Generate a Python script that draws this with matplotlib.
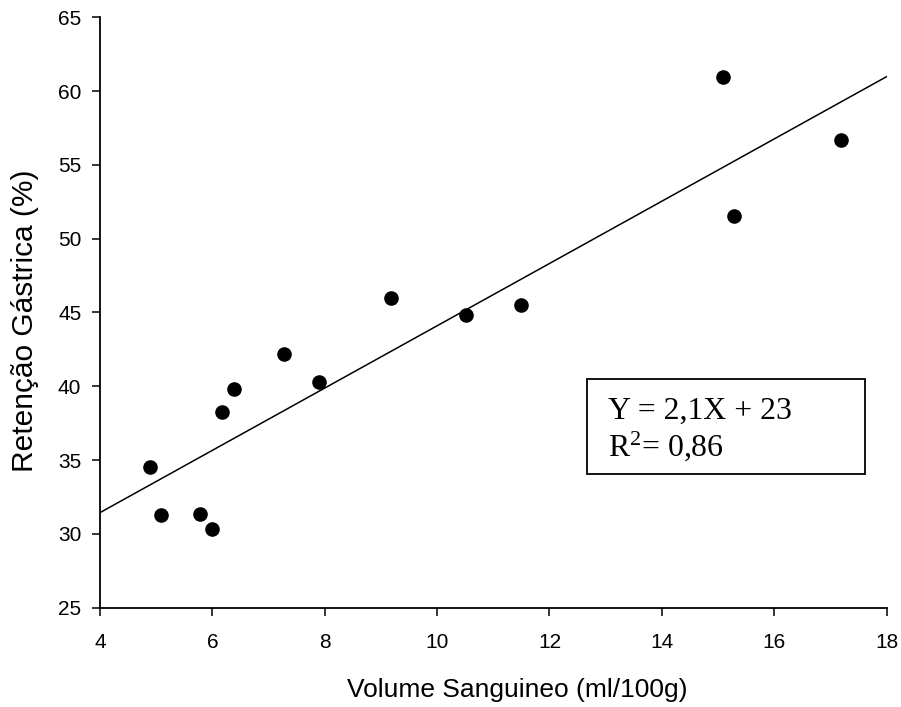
import numpy as np
import matplotlib
matplotlib.use("Agg")
import matplotlib.pyplot as plt
from matplotlib.patches import Rectangle

# data
volume = [4.89, 5.09, 5.78, 5.99, 6.18, 6.39, 7.28, 7.89, 9.18, 10.52, 11.49, 15.08, 15.28, 17.19]
retencao = [34.55, 31.26, 31.37, 30.35, 38.26, 39.84, 42.17, 40.29, 45.96, 44.85, 45.53, 60.93, 51.56, 56.67]
fit_slope = 2.11
fit_intercept = 23.0
fit_range = [4, 18]
xticks = [4, 6, 8, 10, 12, 14, 16, 18]
yticks = [25, 30, 35, 40, 45, 50, 55, 60, 65]

plt.rcParams['font.family'] = ['Liberation Sans', 'DejaVu Sans']
plt.rcParams['mathtext.default'] = 'regular'

fig = plt.figure(figsize=(9.01, 7.07), dpi=100)
ax = fig.add_axes([0.111, 0.1405, 0.873, 0.835])

ax.scatter(volume, retencao, s=90, color='black', zorder=3, clip_on=False)
xs = np.array(fit_range, dtype=float)
ax.plot(xs, fit_slope * xs + fit_intercept, color='black', lw=1.1)

ax.set_xlim(4, 18)
ax.set_ylim(25, 65)
ax.set_xticks(xticks)
ax.set_yticks(yticks)
ax.spines['top'].set_visible(False)
ax.spines['right'].set_visible(False)
for s in ['left', 'bottom']:
    ax.spines[s].set_linewidth(1.3)
ax.tick_params(axis='both', direction='out', length=6, width=1.1, labelsize=15)
ax.tick_params(axis='x', pad=12)
ax.tick_params(axis='y', pad=7.5)

ax.set_xlabel('Volume Sanguineo (ml/100g)', fontsize=19)
ax.xaxis.set_label_coords(0.531, -0.119)
ax.set_ylabel('Retenção Gástrica (%)', fontsize=21.5)
ax.yaxis.set_label_coords(-0.077, 0.4865)

# equation box
W, H = 901.0, 707.0
box = Rectangle((587.3 / W, 1 - 474.3 / H), (865 - 587.3) / W, (474.3 - 379) / H,
                transform=fig.transFigure, fill=False, edgecolor='black', lw=1.3)
fig.add_artist(box)
fig.text(608.3 / W, 1 - 419 / H, 'Y = 2,1X + 23', family='Liberation Serif',
         fontsize=22.9, va='baseline', ha='left')
fig.text(608.3 / W, 1 - 456 / H, 'R$^2$= 0,86', family='Liberation Serif',
         fontsize=22.9, va='baseline', ha='left')

fig.savefig('out.png', dpi=100)
